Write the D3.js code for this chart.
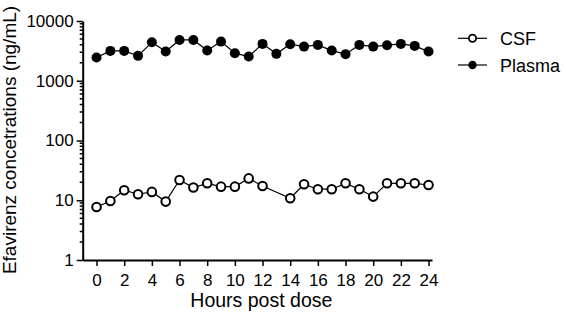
<!DOCTYPE html>
<html>
<head>
<meta charset="utf-8">
<script src="https://cdn.jsdelivr.net/npm/d3@7"></script>
<style>
  body { margin: 0; background: #fff; }
  svg { display: block; font-family: "Liberation Sans", Arial, sans-serif; }
</style>
</head>
<body>
<div id="chart"></div>
<script>
// hours post dose
const hours = d3.range(0, 25);
// efavirenz concentrations (ng/mL); null = no sample
const csf = [7.7, 9.7, 14.7, 12.6, 13.8, 9.5, 21.8, 16.3, 19.2, 16.9, 16.9, 23.2, 17.3,
  null, 10.8, 18.5, 15.3, 15.3, 19.2, 15.3, 11.5, 19.2, 19.2, 19.2, 18];
const plasma = [2445, 3162, 3162, 2610, 4416, 3078, 4820, 4820, 3200, 4520, 2895, 2540, 4140,
  2820, 4090, 3730, 3980, 3200, 2785, 3980, 3730, 3935, 4140, 3830, 3078];
const xTicks = d3.range(0, 25, 2);
const yTicks = [1, 10, 100, 1000, 10000];

const W = 566, H = 316;
const svg = d3.select("#chart").append("svg").attr("width", W).attr("height", H);

const x = d3.scaleLinear().domain([-1, 24.25]).range([82.7, 432]);
const y = d3.scaleLog().domain([1, 10000]).range([260, 21]);

// y axis with log minor ticks
const minor = [];
for (let d = 1; d < 10000; d *= 10) for (let k = 2; k < 10; k++) minor.push(d * k);

const yAxis = svg.append("g").attr("transform", `translate(${x(-1)},0)`);
yAxis.call(d3.axisLeft(y).tickValues(yTicks).tickFormat(d3.format("d")).tickSize(6).tickSizeOuter(0).tickPadding(3));
yAxis.selectAll(".minor").data(minor).join("line")
  .attr("class", "minor")
  .attr("x1", -3).attr("x2", 0)
  .attr("y1", d => y(d)).attr("y2", d => y(d))
  .attr("stroke", "#000").attr("stroke-width", 1.5);

const xAxis = svg.append("g").attr("transform", `translate(0,${y(1)})`);
xAxis.call(d3.axisBottom(x).tickValues(xTicks).tickFormat(d3.format("d")).tickSize(6).tickSizeOuter(0).tickPadding(8));

svg.selectAll(".domain").attr("stroke-width", 2);
svg.selectAll(".tick line").attr("stroke-width", 1.5);
svg.selectAll(".tick text").attr("font-size", "17px").attr("fill", "#000")
  .style("font-family", "Liberation Sans, Arial, sans-serif");

// titles
svg.append("text")
  .attr("x", (x(-1) + x(24.25)) / 2 + 4).attr("y", 306.5)
  .attr("text-anchor", "middle").attr("font-size", "19.5px")
  .text("Hours post dose");

svg.append("text")
  .attr("transform", `translate(16,${140}) rotate(-90)`)
  .attr("text-anchor", "middle").attr("font-size", "19px")
  .text("Efavirenz concetrations (ng/mL)");

// lines
const line = d3.line()
  .defined(d => d.v != null)
  .x(d => x(d.h)).y(d => y(d.v));

const csfPts = hours.map((h, i) => ({ h, v: csf[i] })).filter(d => d.v != null);
const plasmaPts = hours.map((h, i) => ({ h, v: plasma[i] }));

svg.append("path").datum(plasmaPts).attr("d", line)
  .attr("fill", "none").attr("stroke", "#000").attr("stroke-width", 1.2);
svg.append("path").datum(csfPts).attr("d", line)
  .attr("fill", "none").attr("stroke", "#000").attr("stroke-width", 1.2);

svg.selectAll(".pl").data(plasmaPts).join("circle")
  .attr("class", "pl")
  .attr("cx", d => x(d.h)).attr("cy", d => y(d.v)).attr("r", 5)
  .attr("fill", "#000");

svg.selectAll(".cs").data(csfPts).join("circle")
  .attr("class", "cs")
  .attr("cx", d => x(d.h)).attr("cy", d => y(d.v)).attr("r", 4.3)
  .attr("fill", "#fff").attr("stroke", "#000").attr("stroke-width", 2);

// legend
const legend = [
  { name: "CSF", open: true, y: 38.3 },
  { name: "Plasma", open: false, y: 65 }
];
const lg = svg.append("g");
legend.forEach(d => {
  lg.append("line").attr("x1", 458).attr("x2", 487).attr("y1", d.y).attr("y2", d.y)
    .attr("stroke", "#000").attr("stroke-width", 1.2);
  lg.append("circle").attr("cx", 472.5).attr("cy", d.y).attr("r", d.open ? 3.6 : 4.2)
    .attr("fill", d.open ? "#fff" : "#000").attr("stroke", "#000").attr("stroke-width", d.open ? 1.8 : 0);
  lg.append("text").attr("x", 500).attr("y", d.y + 6.5).attr("font-size", "18px").text(d.name);
});
</script>
</body>
</html>
